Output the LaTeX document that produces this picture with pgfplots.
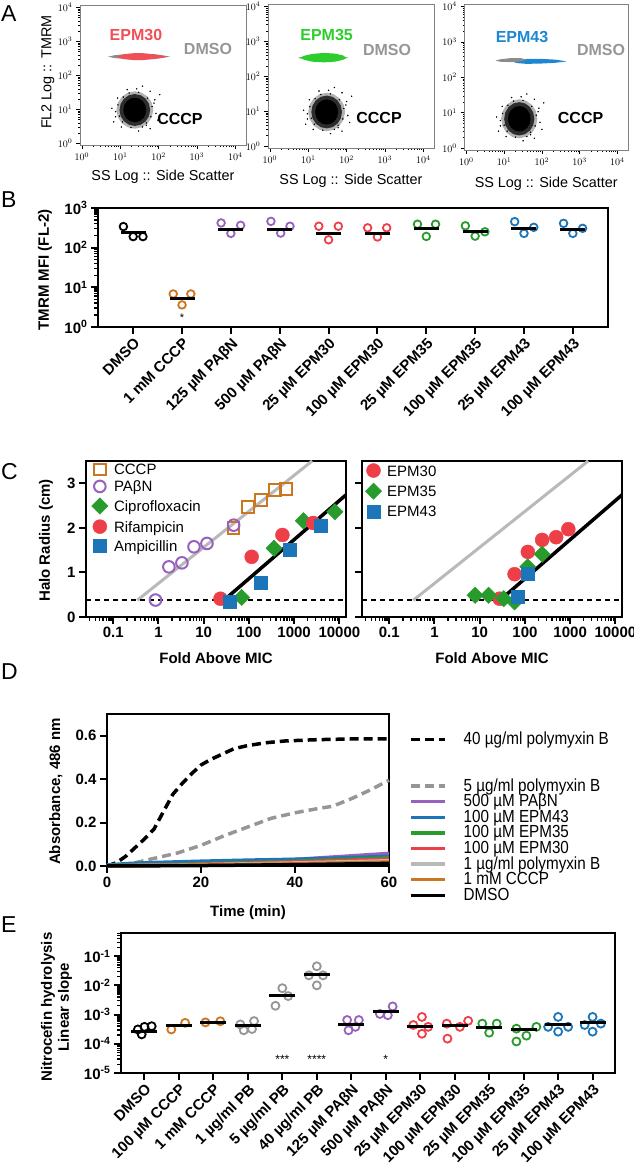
\documentclass[border=0pt]{standalone}
\usepackage{fontspec}
\setmainfont{Liberation Sans}
\newfontfamily\narrowfont[FakeStretch=0.87]{Liberation Sans}
\usepackage{pgfplots}
\pgfplotsset{compat=1.18}

\definecolor{cred}{RGB}{238,62,72}
\definecolor{cgreen}{RGB}{40,155,45}
\definecolor{cblue}{RGB}{28,117,184}
\definecolor{cpurple}{RGB}{150,98,190}
\definecolor{corange}{RGB}{204,118,32}
\definecolor{cgray}{RGB}{150,150,150}
\definecolor{clgray}{RGB}{185,185,185}
\definecolor{aRed}{RGB}{240,80,85}
\definecolor{aGreen}{RGB}{45,205,45}
\definecolor{aBlue}{RGB}{30,135,210}
\definecolor{aGray}{RGB}{140,140,140}

\newcommand{\myfs}[1]{\fontsize{#1}{#1}\selectfont}

\pgfplotsset{
 Apanel/.style={scale only axis, xmin=-0.05, xmax=4.28, ymin=-0.05, ymax=4.07,
   axis line style={gray, line width=0.5pt},
   xtick={0,1,2,3,4}, ytick={0,1,2,3,4},
   xticklabels={$10^{0}$,$10^{1}$,$10^{2}$,$10^{3}$,$10^{4}$},
   yticklabels={$10^{0}$,$10^{1}$,$10^{2}$,$10^{3}$,$10^{4}$},
   minor xtick={0.301,0.477,0.602,0.699,0.778,0.845,0.903,0.954,1.301,1.477,1.602,1.699,1.778,1.845,1.903,1.954,2.301,2.477,2.602,2.699,2.778,2.845,2.903,2.954,3.301,3.477,3.602,3.699,3.778,3.845,3.903,3.954},
   minor ytick={0.301,0.477,0.602,0.699,0.778,0.845,0.903,0.954,1.301,1.477,1.602,1.699,1.778,1.845,1.903,1.954,2.301,2.477,2.602,2.699,2.778,2.845,2.903,2.954,3.301,3.477,3.602,3.699,3.778,3.845,3.903,3.954},
   tick align=outside, xtick pos=bottom, ytick pos=left,
   major tick length=4pt, minor tick length=2pt,
   tick style={black, line width=0.6pt},
   ticklabel style={font=\myfs{10}},
   xlabel={SS Log :: Side Scatter},
   xlabel style={font=\myfs{14.4}, at={(axis description cs:0.5,-0.229)}, anchor=center},
   ylabel style={font=\myfs{14.4}, at={(axis description cs:-0.193,0.52)}, anchor=center},
 },
 Bold/.style={scale only axis, axis line style={line width=2.4pt}, tick align=outside,
   major tick length=7pt, minor tick length=4pt, tick style={black, line width=2pt},
   minor tick style={line width=1.4pt},
   ticklabel style={font=\bfseries\myfs{15}}, label style={font=\bfseries\myfs{15}},
   xtick pos=bottom, ytick pos=left},
}

\begin{document}
\begin{tikzpicture}
\path[use as bounding box] (0pt,0pt) rectangle (633pt,1174pt);

% panel letters
\node[anchor=base west, inner sep=0pt, font=\myfs{23}] at (1pt,1152pt) {A};
\node[anchor=base west, inner sep=0pt, font=\myfs{23}] at (1pt,966pt) {B};
\node[anchor=base west, inner sep=0pt, font=\myfs{23}] at (1pt,694pt) {C};
\node[anchor=base west, inner sep=0pt, font=\myfs{23}] at (1pt,494pt) {D};
\node[anchor=base west, inner sep=0pt, font=\myfs{23}] at (1pt,241pt) {E};

% ---------------- A1
\begin{axis}[Apanel, at={(80pt,1029pt)}, anchor=south west, width=166pt, height=140pt, ylabel={FL2 Log :: TMRM}]
\addplot[draw=none, fill=black, fill opacity=0.3] coordinates {(1.86,0.98)(1.823,1.19)(1.719,1.369)(1.564,1.488)(1.38,1.53)(1.196,1.488)(1.041,1.369)(0.937,1.19)(0.9,0.98)(0.937,0.77)(1.041,0.591)(1.196,0.472)(1.38,0.43)(1.564,0.472)(1.719,0.591)(1.823,0.77)};
\addplot[draw=none, fill=black, fill opacity=0.75] coordinates {(1.78,0.98)(1.75,1.16)(1.663,1.312)(1.533,1.414)(1.38,1.45)(1.227,1.414)(1.097,1.312)(1.01,1.16)(0.98,0.98)(1.01,0.80)(1.097,0.648)(1.227,0.546)(1.38,0.51)(1.533,0.546)(1.663,0.648)(1.75,0.80)};
\addplot[draw=none, fill=black] coordinates {(1.68,0.98)(1.657,1.118)(1.592,1.235)(1.495,1.313)(1.38,1.34)(1.265,1.313)(1.168,1.235)(1.103,1.118)(1.08,0.98)(1.103,0.842)(1.168,0.725)(1.265,0.647)(1.38,0.62)(1.495,0.647)(1.592,0.725)(1.657,0.842)};
\addplot[only marks, mark=*, mark size=0.5pt, black] coordinates {(0.78,1.03)(0.88,0.78)(1.88,1.18)(1.93,0.88)(1.78,1.53)(1.18,1.58)(1.03,0.48)(1.48,0.36)(0.93,1.33)(1.68,0.53)(2.03,1.43)(1.58,1.68)(0.83,0.63)(1.98,0.68)(1.83,1.08)(1.80,0.78)(0.94,1.13)(0.98,0.80)(1.48,1.50)(1.23,1.48)(1.58,0.48)(1.28,0.46)(1.71,1.33)(1.08,1.36)(1.68,0.60)(1.06,0.63)(1.90,1.28)(0.88,0.93)(1.43,1.60)(1.78,0.43)};
\addplot[draw=none, fill=aGray] coordinates {(0.68,2.55)(0.85,2.59)(1.1,2.62)(1.5,2.64)(1.9,2.62)(2.15,2.58)(2.3,2.55)(2.15,2.52)(1.9,2.48)(1.5,2.46)(1.1,2.48)(0.85,2.51)};
\addplot[draw=none, fill=aRed] coordinates {(0.91,2.55)(1.0,2.59)(1.15,2.63)(1.35,2.65)(1.6,2.65)(1.85,2.62)(2.05,2.59)(2.22,2.55)(2.05,2.51)(1.85,2.48)(1.6,2.45)(1.35,2.45)(1.15,2.47)(1.0,2.51)};
\node[font=\bfseries\myfs{16}, text=aRed] at (axis description cs:0.337,0.786) {EPM30};
\node[font=\bfseries\myfs{16}, text=cgray] at (axis description cs:0.771,0.686) {DMSO};
\node[font=\bfseries\myfs{16}] at (axis description cs:0.602,0.186) {CCCP};
\end{axis}

% ---------------- A2
\begin{axis}[Apanel, at={(268pt,1026pt)}, anchor=south west, width=166pt, height=144pt]
\addplot[draw=none, fill=black, fill opacity=0.3] coordinates {(1.96,0.98)(1.923,1.19)(1.819,1.369)(1.664,1.488)(1.48,1.53)(1.296,1.488)(1.141,1.369)(1.037,1.19)(1.0,0.98)(1.037,0.77)(1.141,0.591)(1.296,0.472)(1.48,0.43)(1.664,0.472)(1.819,0.591)(1.923,0.77)};
\addplot[draw=none, fill=black, fill opacity=0.75] coordinates {(1.88,0.98)(1.85,1.16)(1.763,1.312)(1.633,1.414)(1.48,1.45)(1.327,1.414)(1.197,1.312)(1.11,1.16)(1.08,0.98)(1.11,0.80)(1.197,0.648)(1.327,0.546)(1.48,0.51)(1.633,0.546)(1.763,0.648)(1.85,0.80)};
\addplot[draw=none, fill=black] coordinates {(1.78,0.98)(1.757,1.118)(1.692,1.235)(1.595,1.313)(1.48,1.34)(1.365,1.313)(1.268,1.235)(1.203,1.118)(1.18,0.98)(1.203,0.842)(1.268,0.725)(1.365,0.647)(1.48,0.62)(1.595,0.647)(1.692,0.725)(1.757,0.842)};
\addplot[only marks, mark=*, mark size=0.5pt, black] coordinates {(0.88,1.03)(0.98,0.78)(1.98,1.18)(2.03,0.88)(1.88,1.53)(1.28,1.58)(1.13,0.48)(1.58,0.36)(1.03,1.33)(1.78,0.53)(2.13,1.43)(1.68,1.68)(0.93,0.63)(2.08,0.68)(1.93,1.08)(1.90,0.78)(1.04,1.13)(1.08,0.80)(1.58,1.50)(1.33,1.48)(1.68,0.48)(1.38,0.46)(1.81,1.33)(1.18,1.36)(1.78,0.60)(1.16,0.63)(2.00,1.28)(0.98,0.93)(1.53,1.60)(1.88,0.43)};
\addplot[draw=none, fill=aGray] coordinates {(0.72,2.53)(1.0,2.58)(1.4,2.61)(1.8,2.58)(2.05,2.53)(1.8,2.48)(1.4,2.45)(1.0,2.48)};
\addplot[draw=none, fill=aGreen] coordinates {(0.78,2.53)(0.9,2.59)(1.1,2.64)(1.4,2.67)(1.7,2.65)(1.9,2.6)(2.0,2.53)(1.9,2.47)(1.7,2.42)(1.4,2.40)(1.1,2.42)(0.9,2.47)};
\node[font=\bfseries\myfs{16}, text=aGreen] at (axis description cs:0.353,0.785) {EPM35};
\node[font=\bfseries\myfs{16}, text=cgray] at (axis description cs:0.717,0.681) {DMSO};
\node[font=\bfseries\myfs{16}] at (axis description cs:0.669,0.208) {CCCP};
\end{axis}

% ---------------- A3
\begin{axis}[Apanel, at={(464.5pt,1024pt)}, anchor=south west, width=163.5pt, height=146pt]
\addplot[draw=none, fill=black, fill opacity=0.3] coordinates {(1.88,0.83)(1.843,1.04)(1.739,1.219)(1.584,1.338)(1.40,1.38)(1.216,1.338)(1.061,1.219)(0.957,1.04)(0.92,0.83)(0.957,0.62)(1.061,0.441)(1.216,0.322)(1.40,0.28)(1.584,0.322)(1.739,0.441)(1.843,0.62)};
\addplot[draw=none, fill=black, fill opacity=0.75] coordinates {(1.80,0.83)(1.77,1.01)(1.683,1.162)(1.553,1.264)(1.40,1.30)(1.247,1.264)(1.117,1.162)(1.03,1.01)(1.00,0.83)(1.03,0.65)(1.117,0.498)(1.247,0.396)(1.40,0.36)(1.553,0.396)(1.683,0.498)(1.77,0.65)};
\addplot[draw=none, fill=black] coordinates {(1.70,0.83)(1.677,0.968)(1.612,1.085)(1.515,1.163)(1.40,1.19)(1.285,1.163)(1.188,1.085)(1.123,0.968)(1.10,0.83)(1.123,0.692)(1.188,0.575)(1.285,0.497)(1.40,0.47)(1.515,0.497)(1.612,0.575)(1.677,0.692)};
\addplot[only marks, mark=*, mark size=0.5pt, black] coordinates {(0.80,0.88)(0.90,0.63)(1.90,1.03)(1.95,0.73)(1.80,1.38)(1.20,1.43)(1.05,0.33)(1.50,0.21)(0.95,1.18)(1.70,0.38)(2.05,1.28)(1.60,1.53)(0.85,0.48)(2.00,0.53)(1.85,0.93)(1.82,0.63)(0.96,0.98)(1.00,0.65)(1.50,1.35)(1.25,1.33)(1.60,0.33)(1.30,0.31)(1.73,1.18)(1.10,1.21)(1.70,0.45)(1.08,0.48)(1.92,1.13)(0.90,0.78)(1.45,1.45)(1.80,0.28)};
\addplot[draw=none, fill=aBlue] coordinates {(1.19,2.45)(1.35,2.5)(1.6,2.52)(2.0,2.52)(2.35,2.5)(2.66,2.45)(2.35,2.41)(2.0,2.39)(1.6,2.38)(1.35,2.40)};
\addplot[draw=none, fill=aGray] coordinates {(0.77,2.47)(0.9,2.51)(1.15,2.54)(1.45,2.54)(1.6,2.5)(1.45,2.45)(1.15,2.43)(0.9,2.44)};
\node[font=\bfseries\myfs{16}, text=aBlue] at (axis description cs:0.352,0.774) {EPM43};
\node[font=\bfseries\myfs{16}, text=cgray] at (axis description cs:0.835,0.685) {DMSO};
\node[font=\bfseries\myfs{16}] at (axis description cs:0.710,0.219) {CCCP};
\end{axis}

% ---------------- B
\begin{axis}[Bold, at={(98pt,847pt)}, anchor=south west, width=510pt, height=119pt,
 ymode=log, ymin=1, ymax=1000, xmin=-0.72, xmax=9.72,
 ytick={1,10,100,1000}, yticklabels={10\textsuperscript{0},10\textsuperscript{1},10\textsuperscript{2},10\textsuperscript{3}},
 minor ytick={2,3,4,5,6,7,8,9,20,30,40,50,60,70,80,90,200,300,400,500,600,700,800,900},
 xtick={0,1,2,3,4,5,6,7,8,9},
 xticklabels={DMSO,1 mM CCCP,125 µM PAβN,500 µM PAβN,25 µM EPM30,100 µM EPM30,25 µM EPM35,100 µM EPM35,25 µM EPM43,100 µM EPM43},
 xticklabel style={rotate=45, anchor=north east, inner sep=2pt},
 ylabel={TMRM MFI (FL-2)}, ylabel style={at={(axis description cs:-0.104,0.48)}, anchor=center},
 clip=false]
\addplot[only marks, mark=o, mark size=3.8pt, line width=1.8pt, black] coordinates {(-0.2,340)(0,190)(0.2,190)};
\addplot[only marks, mark=o, mark size=3.8pt, line width=1.8pt, corange] coordinates {(0.82,6.8)(1.18,6.8)(1,3.6)};
\addplot[only marks, mark=o, mark size=3.8pt, line width=1.8pt, cpurple] coordinates {(1.8,420)(2,229)(2.2,365)(2.82,460)(3.02,233)(3.21,347)};
\addplot[only marks, mark=o, mark size=3.8pt, line width=1.8pt, cred] coordinates {(3.8,347)(4,158)(4.2,347)(4.8,316)(5,186)(5.19,316)};
\addplot[only marks, mark=o, mark size=3.8pt, line width=1.8pt, cgreen] coordinates {(5.82,390)(6,192)(6.19,390)(6.8,355)(7,195)(7.2,251)};
\addplot[only marks, mark=o, mark size=3.8pt, line width=1.8pt, cblue] coordinates {(7.81,452)(8,229)(8.2,326)(8.81,410)(9,229)(9.2,307)};
\addplot[only marks, mark=-, mark size=12.5pt, line width=3pt, black] coordinates {(0,240)(1,5.3)(2,295)(3,290)(4,234)(5,224)(6,308)(7,252)(8,307)(9,295)};
\node[font=\myfs{11}] at (axis cs:1,1.75) {*};
\end{axis}

% ---------------- C left
\begin{axis}[Bold, at={(86pt,557pt)}, anchor=south west, width=260pt, height=156pt,
 xmode=log, xmin=0.025, xmax=14000, ymin=0, ymax=3.5,
 xtick={0.1,1,10,100,1000,10000}, xticklabels={0.1,1,10,100,1000,10000},
 minor xtick={0.03,0.04,0.05,0.06,0.07,0.08,0.09,0.2,0.3,0.4,0.5,0.6,0.7,0.8,0.9,2,3,4,5,6,7,8,9,20,30,40,50,60,70,80,90,200,300,400,500,600,700,800,900,2000,3000,4000,5000,6000,7000,8000,9000},
 ytick={0,1,2,3}, yticklabels={0,1,2,3},
 xlabel={Fold Above MIC}, xlabel style={at={(axis description cs:0.5,-0.263)}, anchor=center},
 ylabel={Halo Radius (cm)}, ylabel style={at={(axis description cs:-0.154,0.49)}, anchor=center},
 legend cell align=left,
 legend style={at={(0.021,0.985)}, anchor=north west, draw=none, fill=none, inner sep=0pt, font=\myfs{15}, row sep=5.5pt, column sep=6pt, nodes={inner sep=0pt, text height=11pt, text depth=0pt}}]
\addplot[forget plot, color=clgray, line width=3pt] coordinates {(0.34,0.376)(2500,3.5)};
\addplot[forget plot, black, line width=3.5pt] coordinates {(28,0.376)(14000,2.74)};
\addplot[forget plot, black, line width=2.4pt, dash pattern=on 5pt off 4pt] coordinates {(0.025,0.376)(14000,0.376)};
\addplot[only marks, mark=square, mark size=5.8pt, line width=2pt, color=corange] coordinates {(46,1.99)(94,2.47)(183,2.63)(373,2.85)(660,2.87)};
\addlegendentry{CCCP}
\addplot[only marks, mark=o, mark size=5.8pt, line width=2pt, color=cpurple] coordinates {(0.86,0.38)(1.7,1.125)(3.3,1.215)(6.1,1.575)(11.8,1.65)(46,2.06)};
\addlegendentry{PAβN}
\addplot[only marks, mark=square*, mark options={rotate=45}, mark size=5.8pt, color=cgreen] coordinates {(69,0.44)(360,1.54)(1590,2.16)(7950,2.36)};
\addlegendentry{Ciprofloxacin}
\addplot[only marks, mark=*, mark size=7pt, color=cred] coordinates {(23.5,0.41)(115,1.35)(550,1.84)(2630,2.11)};
\addlegendentry{Rifampicin}
\addplot[only marks, mark=square*, mark size=6.5pt, color=cblue] coordinates {(37,0.34)(183,0.765)(815,1.5)(3800,2.04)};
\addlegendentry{Ampicillin}
\end{axis}

% ---------------- C right
\begin{axis}[Bold, at={(362pt,557pt)}, anchor=south west, width=260pt, height=156pt,
 xmode=log, xmin=0.025, xmax=14000, ymin=0, ymax=3.5,
 xtick={0.1,1,10,100,1000,10000}, xticklabels={0.1,1,10,100,1000,10000},
 minor xtick={0.03,0.04,0.05,0.06,0.07,0.08,0.09,0.2,0.3,0.4,0.5,0.6,0.7,0.8,0.9,2,3,4,5,6,7,8,9,20,30,40,50,60,70,80,90,200,300,400,500,600,700,800,900,2000,3000,4000,5000,6000,7000,8000,9000},
 ytick={0,1,2,3}, yticklabels={},
 xlabel={Fold Above MIC}, xlabel style={at={(axis description cs:0.5,-0.263)}, anchor=center},
 legend cell align=left,
 legend style={at={(0.012,0.985)}, anchor=north west, draw=none, fill=none, inner sep=0pt, font=\myfs{15}, row sep=5.5pt, column sep=5.5pt, nodes={inner sep=0pt, text height=11pt, text depth=0pt}}]
\addplot[forget plot, color=clgray, line width=3pt] coordinates {(0.34,0.376)(2500,3.5)};
\addplot[forget plot, black, line width=3.5pt] coordinates {(28,0.376)(14000,2.74)};
\addplot[forget plot, black, line width=2.4pt, dash pattern=on 5pt off 4pt] coordinates {(0.025,0.376)(14000,0.376)};
\addplot[only marks, mark=*, mark size=7pt, color=cred] coordinates {(27.6,0.41)(59,0.96)(116,1.46)(240,1.73)(490,1.79)(910,1.97)};
\addlegendentry{EPM30}
\addplot[only marks, mark=square*, mark options={rotate=45}, mark size=5.8pt, color=cgreen] coordinates {(7.9,0.487)(15.7,0.487)(34,0.41)(59,0.34)(116,1.125)(240,1.41)};
\addlegendentry{EPM35}
\addplot[only marks, mark=square*, mark size=6.5pt, color=cblue] coordinates {(69,0.45)(116,0.975)};
\addlegendentry{EPM43}
\end{axis}

% ---------------- D
\begin{axis}[Bold, at={(107pt,308pt)}, anchor=south west, width=282pt, height=152pt,
 xmin=0, xmax=60, ymin=0, ymax=0.7,
 xtick={0,20,40,60}, xticklabels={0,20,40,60},
 ytick={0,0.2,0.4,0.6}, yticklabels={0.0,0.2,0.4,0.6},
 xlabel={Time (min)}, xlabel style={at={(axis description cs:0.5,-0.309)}, anchor=center},
 ylabel={Absorbance, 486 nm}, ylabel style={at={(axis description cs:-0.181,0.49)}, anchor=center},
 clip=false,
 legend cell align=left,
 legend image code/.code={\draw[#1] (0pt,0pt) -- (34pt,0pt);},
 legend style={at={(1.071,0.868)}, anchor=north west, draw=none, fill=none, inner sep=0pt, font=\narrowfont\myfs{17.5}, row sep=5.6pt, column sep=17pt, nodes={inner sep=0pt, text height=10pt, text depth=0pt}}]
\addplot[black, line width=3.5pt, dash pattern=on 9pt off 5pt] coordinates {(0,0)(2,0.015)(4,0.045)(6,0.085)(8,0.125)(10,0.17)(12,0.25)(14,0.33)(16,0.38)(18,0.425)(20,0.465)(22,0.49)(24,0.51)(27,0.54)(30,0.555)(34,0.568)(38,0.576)(45,0.582)(52,0.585)(60,0.585)};
\addlegendentry{40 µg/ml polymyxin B}
\addlegendimage{empty legend}\addlegendentry{}
\addlegendimage{empty legend}\addlegendentry{}
\addplot[cgray, line width=3.5pt, dash pattern=on 9pt off 5pt] coordinates {(0,0)(5,0.01)(10,0.035)(15,0.06)(20,0.095)(25,0.14)(30,0.18)(35,0.22)(40,0.245)(45,0.265)(48,0.275)(52,0.31)(56,0.35)(60,0.395)};
\addlegendentry{5 µg/ml polymyxin B}
\addplot[cpurple, line width=3.5pt] coordinates {(0,0.002)(10,0.006)(20,0.012)(30,0.02)(40,0.03)(50,0.044)(60,0.058)};
\addlegendentry{500 µM PAβN}
\addplot[cblue, line width=3.5pt] coordinates {(0,0.005)(5,0.012)(10,0.016)(20,0.022)(30,0.027)(40,0.031)(50,0.037)(60,0.045)};
\addlegendentry{100 µM EPM43}
\addplot[cgreen, line width=3.5pt] coordinates {(0,0.002)(10,0.005)(20,0.01)(30,0.016)(40,0.022)(50,0.03)(60,0.038)};
\addlegendentry{100 µM EPM35}
\addplot[cred, line width=3.5pt] coordinates {(0,0.001)(10,0.004)(20,0.008)(30,0.013)(40,0.019)(50,0.025)(60,0.032)};
\addlegendentry{100 µM EPM30}
\addplot[clgray, line width=3.5pt] coordinates {(0,0.001)(10,0.003)(20,0.006)(30,0.01)(40,0.014)(50,0.019)(60,0.024)};
\addlegendentry{1 µg/ml polymyxin B}
\addplot[corange, line width=3.5pt] coordinates {(0,0)(10,0.002)(20,0.004)(30,0.007)(40,0.01)(50,0.014)(60,0.018)};
\addlegendentry{1 mM CCCP}
\addplot[black, line width=3.5pt] coordinates {(0,0)(10,0.001)(20,0.002)(30,0.004)(40,0.006)(50,0.009)(60,0.012)};
\addlegendentry{DMSO}
\end{axis}

% ---------------- E
\begin{axis}[Bold, at={(121pt,101pt)}, anchor=south west, width=494pt, height=140pt,
 ymode=log, ymin=1e-5, ymax=0.62, xmin=-0.68, xmax=13.65,
 ytick={1e-5,1e-4,1e-3,1e-2,1e-1},
 yticklabels={10\textsuperscript{-5},10\textsuperscript{-4},10\textsuperscript{-3},10\textsuperscript{-2},10\textsuperscript{-1}},
 minor ytick={2e-5,3e-5,4e-5,5e-5,6e-5,7e-5,8e-5,9e-5,2e-4,3e-4,4e-4,5e-4,6e-4,7e-4,8e-4,9e-4,2e-3,3e-3,4e-3,5e-3,6e-3,7e-3,8e-3,9e-3,2e-2,3e-2,4e-2,5e-2,6e-2,7e-2,8e-2,9e-2,0.2,0.3,0.4,0.5,0.6},
 xtick={0,1,2,3,4,5,6,7,8,9,10,11,12,13},
 xticklabels={DMSO,100 µM CCCP,1 mM CCCP,1 µg/ml PB,5 µg/ml PB,40 µg/ml PB,125 µM PAβN,500 µM PAβN,25 µM EPM30,100 µM EPM30,25 µM EPM35,100 µM EPM35,25 µM EPM43,100 µM EPM43},
 xticklabel style={rotate=45, anchor=north east, inner sep=2pt},
 ylabel={Nitrocefin hydrolysis\\Linear slope},
 ylabel style={align=center, font=\bfseries\fontsize{15}{17}\selectfont, at={(axis description cs:-0.1306,0.47)}, anchor=center},
 clip=false]
\addplot[only marks, mark=o, mark size=4pt, line width=1.8pt, black] coordinates {(-0.19,3.1e-4)(0,3.8e-4)(0.21,4.0e-4)(-0.08,2.1e-4)};
\addplot[only marks, mark=o, mark size=4pt, line width=1.8pt, corange] coordinates {(0.78,3.1e-4)(1.18,5.2e-4)(1.77,5.4e-4)(2.2,5.9e-4)};
\addplot[only marks, mark=o, mark size=4pt, line width=1.8pt, cgray] coordinates {(2.78,4.6e-4)(3.18,6.0e-4)(2.88,2.9e-4)(3.12,3.2e-4)(3.8,2.0e-3)(4.0,8.0e-3)(4.17,4.3e-3)(4.77,2.2e-2)(5.0,4.5e-2)(5.18,2.2e-2)(5.0,1.0e-2)};
\addplot[only marks, mark=o, mark size=4pt, line width=1.8pt, cpurple] coordinates {(5.88,6.5e-4)(6.22,6.5e-4)(5.92,2.9e-4)(6.12,3.8e-4)(6.83,1.05e-3)(7.06,0.95e-3)(7.2,1.9e-3)};
\addplot[only marks, mark=o, mark size=4pt, line width=1.8pt, cred] coordinates {(8.05,8.3e-4)(7.8,4.4e-4)(8.23,3.8e-4)(8.05,2.2e-4)(8.77,4.9e-4)(8.79,1.5e-4)(9.15,3.8e-4)(9.39,6.1e-4)};
\addplot[only marks, mark=o, mark size=4pt, line width=1.8pt, cgreen] coordinates {(9.8,4.9e-4)(10.22,4.9e-4)(10.0,2.4e-4)(10.79,3.3e-4)(11.37,3.8e-4)(11.08,1.9e-4)(10.79,1.2e-4)};
\addplot[only marks, mark=o, mark size=4pt, line width=1.8pt, cblue] coordinates {(12,8.3e-4)(11.71,3.8e-4)(12,2.6e-4)(12.29,3.8e-4)(13,8.3e-4)(12.77,4.4e-4)(13.24,4.9e-4)(13,2.6e-4)};
\addplot[only marks, mark=-, mark size=13pt, line width=3pt, black] coordinates {(0,2.7e-4)(1,4.1e-4)(2,5.5e-4)(3,4.3e-4)(4,4.6e-3)(5,2.35e-2)(6,4.7e-4)(7,1.23e-3)(8,4.0e-4)(9,4.3e-4)(10,3.6e-4)(11,3.0e-4)(12,4.7e-4)(13,5.4e-4)};
\node[font=\myfs{12}] at (axis cs:4,2.9e-5) {***};
\node[font=\myfs{12}] at (axis cs:5,2.9e-5) {****};
\node[font=\myfs{12}] at (axis cs:7,2.9e-5) {*};
\end{axis}
\end{tikzpicture}
\end{document}
